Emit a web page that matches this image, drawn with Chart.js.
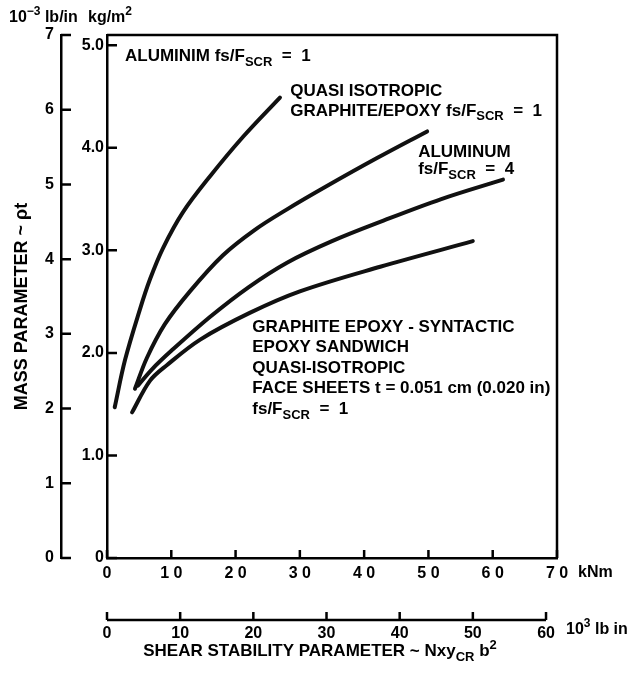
<!DOCTYPE html>
<html>
<head>
<meta charset="utf-8">
<title>Mass parameter vs shear stability parameter</title>
<script src="https://cdn.jsdelivr.net/npm/chart.js@4.4.1/dist/chart.umd.min.js"></script>
<style>
  html, body { margin: 0; padding: 0; background: #fff; }
  canvas { display: block; }
</style>
</head>
<body>
<canvas id="chart" width="631" height="677"></canvas>
<script>
// curves: shear stability (kNm) -> mass (kg/m2)
const aluFs1X = [1.2, 2.8, 5.1, 6.7, 8.7, 11.8, 16.0, 21.2, 26.9];
const aluFs1Y = [1.47, 1.93, 2.42, 2.72, 3.02, 3.37, 3.72, 4.11, 4.49];

const quasiX = [4.35, 6.2, 9.0, 12.9, 18.0, 23.0, 28.0, 34.0, 42.0, 49.8];
const quasiY = [1.65, 1.95, 2.28, 2.60, 2.95, 3.20, 3.40, 3.62, 3.90, 4.16];

const aluFs4X = [4.8, 7.0, 10.0, 16.0, 22.0, 28.0, 35.0, 43.0, 52.0, 61.6];
const aluFs4Y = [1.68, 1.84, 2.02, 2.35, 2.64, 2.88, 3.09, 3.29, 3.50, 3.69];

const sandwichX = [3.9, 6.7, 9.3, 14.5, 22.2, 30.0, 42.5, 56.9];
const sandwichY = [1.42, 1.73, 1.88, 2.13, 2.39, 2.60, 2.84, 3.09];

// axes
const kNmTicks = [0, 10, 20, 30, 40, 50, 60, 70];
const lbInTicks = [0, 10, 20, 30, 40, 50, 60];
const kgTicks = [0, 1, 2, 3, 4, 5];
const kgLabels = ['0', '1.0', '2.0', '3.0', '4.0', '5.0'];
const lbTicks = [0, 1, 2, 3, 4, 5, 6, 7];

const FONT = '"Liberation Sans", Arial, sans-serif';

function toPoints(xs, ys) {
    return xs.map((x, i) => ({ x: x, y: ys[i] }));
}

function curve(xs, ys) {
    return {
        data: toPoints(xs, ys),
        showLine: true,
        borderColor: '#111',
        borderWidth: 4,
        pointRadius: 0,
        tension: 0.35,
        borderCapStyle: 'round',
        fill: false
    };
}

// draws text with sub/superscript pieces
function drawRich(ctx, parts, x, y, align, size) {
    size = size || 17;
    const pieces = parts.map(p => {
        const kind = p[1] || '';
        ctx.font = 'bold ' + (kind ? Math.round(size * 0.76) : size) + 'px ' + FONT;
        return { t: p[0], kind: kind, font: ctx.font, w: ctx.measureText(p[0]).width };
    });
    const total = pieces.reduce((s, p) => s + p.w, 0);
    let cx = align === 'center' ? x - total / 2 : x;
    ctx.textAlign = 'left';
    ctx.textBaseline = 'middle';
    pieces.forEach(p => {
        ctx.font = p.font;
        const dy = p.kind === 'sub' ? 6 : p.kind === 'sup' ? -6 : 0;
        ctx.fillText(p.t, cx, y + dy);
        cx += p.w;
    });
}

const notes = [
    { x: 2.8, y: 4.89, parts: [['ALUMINIM fs/F'], ['SCR', 'sub'], ['  =  1']] },
    { x: 28.5, y: 4.55, parts: [['QUASI ISOTROPIC']] },
    { x: 28.5, y: 4.36, parts: [['GRAPHITE/EPOXY fs/F'], ['SCR', 'sub'], ['  =  1']] },
    { x: 48.4, y: 3.96, parts: [['ALUMINUM']] },
    { x: 48.4, y: 3.79, parts: [['fs/F'], ['SCR', 'sub'], ['  =  4']] }
];

const sandwichNote = [
    [['GRAPHITE EPOXY - SYNTACTIC']],
    [['EPOXY SANDWICH']],
    [['QUASI-ISOTROPIC']],
    [['FACE SHEETS t = 0.051 cm (0.020 in)']],
    [['fs/F'], ['SCR', 'sub'], ['  =  1']]
];

const decorations = {
    id: 'decorations',
    beforeDraw(chart) {
        const ctx = chart.ctx;
        ctx.save();
        ctx.fillStyle = '#fff';
        ctx.fillRect(0, 0, chart.width, chart.height);
        ctx.restore();
    },
    afterDraw(chart) {
        const ctx = chart.ctx;
        const { x, x2, y, y2 } = chart.scales;
        const area = chart.chartArea;
        ctx.save();
        ctx.strokeStyle = '#000';
        ctx.fillStyle = '#000';
        ctx.lineWidth = 2.5;

        // top and right edges of the frame
        ctx.beginPath();
        ctx.moveTo(area.left, area.top);
        ctx.lineTo(area.right, area.top);
        ctx.lineTo(area.right, area.bottom);
        ctx.stroke();

        // second x axis line only runs 0..60
        ctx.beginPath();
        ctx.moveTo(x2.getPixelForValue(0), x2.top);
        ctx.lineTo(x2.getPixelForValue(60), x2.top);
        ctx.stroke();

        // inward tick marks
        ctx.beginPath();
        [y, y2].forEach(s => {
            s.ticks.forEach(t => {
                const p = s.getPixelForValue(t.value);
                ctx.moveTo(s.right, p);
                ctx.lineTo(s.right + 10, p);
            });
        });
        [x, x2].forEach(s => {
            s.ticks.forEach(t => {
                const p = s.getPixelForValue(t.value);
                ctx.moveTo(p, s.top);
                ctx.lineTo(p, s.top - 8);
            });
        });
        ctx.stroke();

        // unit labels
        drawRich(ctx, [['10'], ['\u22123', 'sup'], [' lb/in']], 9, 18, 'left', 16);
        drawRich(ctx, [['kg/m'], ['2', 'sup']], 88, 18, 'left', 16);
        drawRich(ctx, [['kNm']], area.right + 21, x.top + 15, 'left', 16);
        drawRich(ctx, [['10'], ['3', 'sup'], [' lb in']], x2.getPixelForValue(60) + 20, x2.top + 10, 'left', 16);

        // axis titles
        drawRich(ctx, [['SHEAR STABILITY PARAMETER ~ Nxy'], ['CR', 'sub'], [' b'], ['2', 'sup']], 320, 651, 'center', 17);
        ctx.save();
        ctx.translate(22, (area.top + area.bottom) / 2 + 10);
        ctx.rotate(-Math.PI / 2);
        drawRich(ctx, [['MASS PARAMETER ~ \u03c1t']], 0, 0, 'center', 18);
        ctx.restore();

        // curve labels
        notes.forEach(n => {
            drawRich(ctx, n.parts, x.getPixelForValue(n.x), y.getPixelForValue(n.y), 'left');
        });
        const sx = x.getPixelForValue(22.6);
        const sy = y.getPixelForValue(2.25);
        sandwichNote.forEach((parts, i) => {
            drawRich(ctx, parts, sx, sy + i * 20.5, 'left');
        });
        ctx.restore();
    }
};

const tickFont = { family: FONT, size: 16, weight: 'bold' };

new Chart(document.getElementById('chart'), {
    type: 'scatter',
    data: {
        datasets: [
            curve(aluFs1X, aluFs1Y),
            curve(quasiX, quasiY),
            curve(aluFs4X, aluFs4Y),
            curve(sandwichX, sandwichY)
        ]
    },
    options: {
        responsive: false,
        animation: false,
        devicePixelRatio: 1,
        layout: { padding: { top: 35, right: 74, bottom: 0, left: 0 } },
        plugins: { legend: { display: false }, tooltip: { enabled: false } },
        scales: {
            x: {
                type: 'linear', position: 'bottom', weight: 0,
                min: 0, max: 70,
                grid: { display: false, drawTicks: false },
                border: { display: true, color: '#000', width: 2.5 },
                afterBuildTicks: s => { s.ticks = kNmTicks.map(v => ({ value: v })); },
                afterFit: s => { s.height = 62; },
                ticks: {
                    color: '#000', font: tickFont, padding: 6, maxRotation: 0,
                    callback: v => String(v).split('').join(' ')
                }
            },
            x2: {
                type: 'linear', position: 'bottom', weight: 1,
                min: 0, max: 61.5,
                grid: { display: false, drawTicks: false },
                border: { display: false },
                afterBuildTicks: s => { s.ticks = lbInTicks.map(v => ({ value: v })); },
                afterFit: s => { s.height = 57; },
                ticks: { color: '#000', font: tickFont, padding: 4, maxRotation: 0 }
            },
            y: {
                type: 'linear', position: 'left', weight: 0,
                min: 0, max: 5.1,
                grid: { display: false, drawTicks: false },
                border: { display: true, color: '#000', width: 2.5 },
                afterBuildTicks: s => { s.ticks = kgTicks.map(v => ({ value: v })); },
                afterFit: s => { s.width = 46; },
                ticks: {
                    color: '#000', font: tickFont, padding: 3,
                    callback: v => kgLabels[kgTicks.indexOf(v)]
                }
            },
            y2: {
                type: 'linear', position: 'left', weight: 1,
                min: 0, max: 7,
                grid: { display: false, drawTicks: false },
                border: { display: true, color: '#000', width: 2.5 },
                afterBuildTicks: s => { s.ticks = lbTicks.map(v => ({ value: v })); },
                afterFit: s => { s.width = 61; },
                ticks: { color: '#000', font: tickFont, padding: 7 }
            }
        }
    },
    plugins: [decorations]
});
</script>
</body>
</html>
